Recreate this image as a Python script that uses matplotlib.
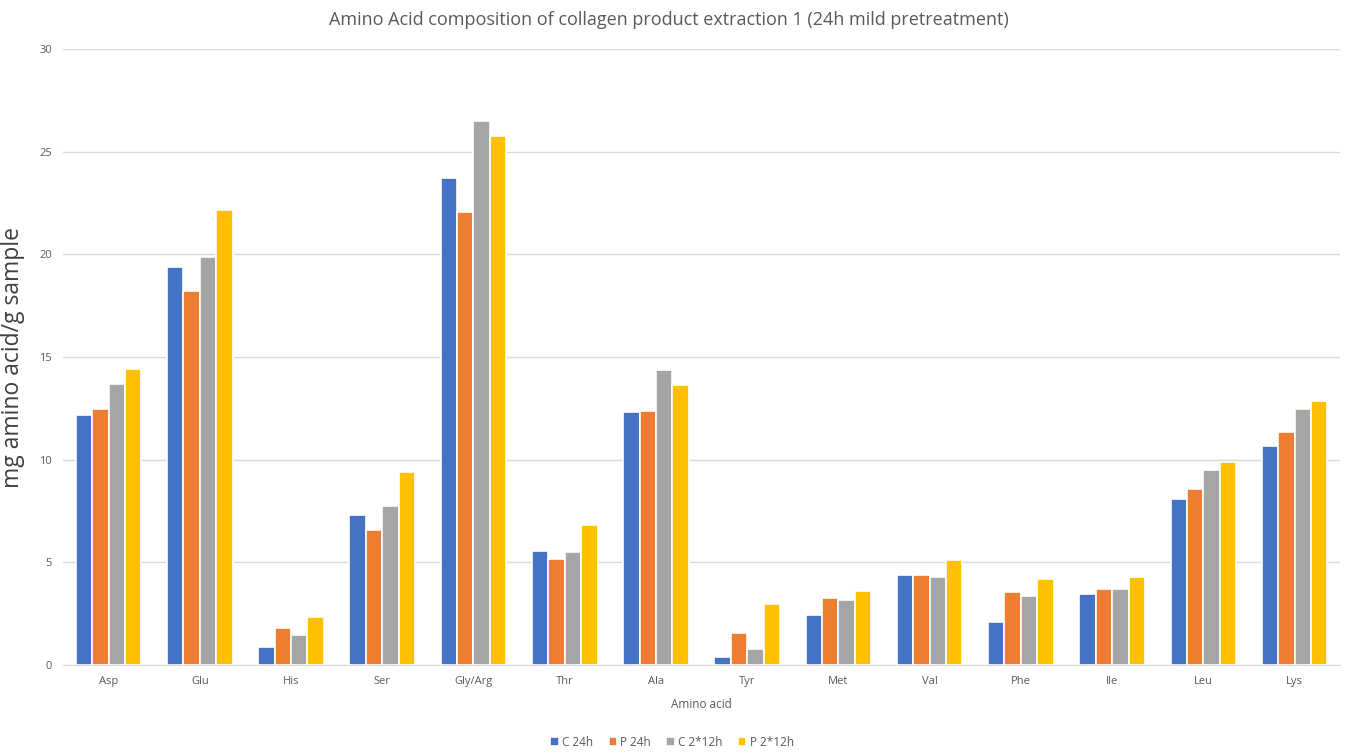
import matplotlib.pyplot as plt
import numpy as np

plt.rcParams['font.family'] = ['Open Sans', 'DejaVu Sans']

acids = ['Asp', 'Glu', 'His', 'Ser', 'Gly/Arg', 'Thr', 'Ala', 'Tyr',
         'Met', 'Val', 'Phe', 'Ile', 'Leu', 'Lys']

c_24h = [12.2, 19.4, 0.9, 7.3, 23.7, 5.55, 12.3, 0.4, 2.45, 4.4, 2.1, 3.45, 8.1, 10.65]
p_24h = [12.45, 18.2, 1.8, 6.6, 22.05, 5.15, 12.35, 1.55, 3.25, 4.4, 3.55, 3.7, 8.55, 11.35]
c_2x12h = [13.7, 19.85, 1.45, 7.75, 26.5, 5.5, 14.35, 0.8, 3.15, 4.3, 3.35, 3.7, 9.5, 12.45]
p_2x12h = [14.4, 22.15, 2.35, 9.4, 25.75, 6.8, 13.65, 2.95, 3.6, 5.1, 4.2, 4.3, 9.9, 12.85]

series = [('C 24h', c_24h, '#4472c4'),
          ('P 24h', p_24h, '#ed7d31'),
          ('C 2*12h', c_2x12h, '#a5a5a5'),
          ('P 2*12h', p_2x12h, '#ffc000')]

fig = plt.figure(figsize=(13.51, 7.54), dpi=100)
ax = fig.add_axes([0.0466, 0.118, 0.9454, 0.817])

x = np.arange(len(acids))
step = 0.18
for i, (name, vals, col) in enumerate(series):
    ax.bar(x + (i - 1.5) * step, vals, width=step, color=col,
           edgecolor='white', linewidth=1.2, label=name, zorder=3)

ax.set_xlim(-0.5, len(acids) - 0.5)
ax.set_ylim(0, 30)
ax.set_yticks(range(0, 31, 5))
ax.set_xticks(x)
ax.set_xticklabels(acids)
ax.tick_params(length=0, labelsize=8, colors='#595959', pad=8)
ax.grid(axis='y', color='#d9d9d9', linewidth=1, zorder=0)
for s in ['top', 'right', 'left']:
    ax.spines[s].set_visible(False)
ax.spines['bottom'].set_color('#d9d9d9')

# title is centred on the whole figure, not on the axes
fig.text(0.495, 0.973, 'Amino Acid composition of collagen product extraction 1 (24h mild pretreatment)',
         ha='center', va='center', fontsize=13, color='#595959')
ax.set_xlabel('Amino acid', fontsize=8.5, color='#595959', labelpad=8)
ax.set_ylabel('mg amino acid/g sample', fontsize=16.5, color='#404040', labelpad=10)

ax.legend(loc='center', bbox_to_anchor=(0.477, -0.125), ncol=4, frameon=False,
          fontsize=8.5, handlelength=0.7, handleheight=0.7, handletextpad=0.3,
          columnspacing=1.3, labelcolor='#595959')

fig.savefig('out.png', dpi=100)
